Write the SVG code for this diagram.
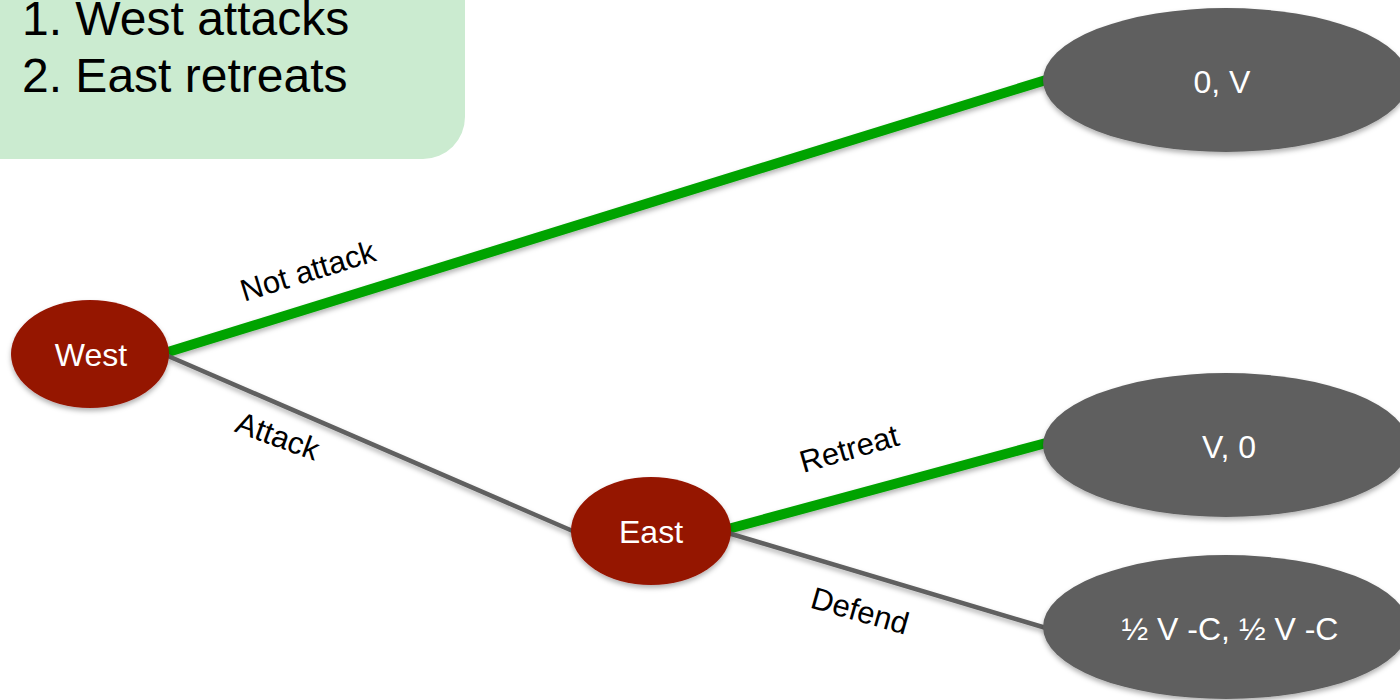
<svg xmlns="http://www.w3.org/2000/svg" width="1400" height="700" viewBox="0 0 1400 700">
  <defs>
    <filter id="sh" x="-20%" y="-20%" width="140%" height="150%">
      <feDropShadow dx="0" dy="3" stdDeviation="2.5" flood-color="#000" flood-opacity="0.3"/>
    </filter>
  </defs>
  <style>
    text { font-family: "Liberation Sans", Arial, sans-serif; }
    .lbl { font-size: 31px; fill: #000; text-anchor: middle; }
    .nodeTxt { font-size: 32px; fill: #fff; text-anchor: middle; }
    .payTxt { font-size: 32px; fill: #fff; text-anchor: middle; }
    .player { fill: #951300; filter: url(#sh); }
    .payoff { fill: #5f5f5f; filter: url(#sh); }
    .win { stroke: #00a300; stroke-width: 10; fill: none; }
    .lose { stroke: #606060; stroke-width: 4.5; fill: none; }
  </style>
  <rect width="1400" height="700" fill="#fff"/>

  <g id="note">
    <rect x="-60" y="-60" width="525" height="219" rx="42" fill="#cbebd0"/>
    <text x="22" y="35" font-size="48">1. West attacks</text>
    <text x="22" y="92" font-size="48">2. East retreats</text>
  </g>

  <g id="connectors" filter="url(#sh)">
    <line class="win" x1="168" y1="352" x2="1046" y2="80"/>
    <line class="lose" x1="168" y1="356" x2="575" y2="532"/>
    <line class="win" x1="728" y1="529" x2="1046" y2="443"/>
    <line class="lose" x1="728" y1="533" x2="1046" y2="628"/>
  </g>

  <g id="labels">
    <text class="lbl" transform="translate(311 281) rotate(-17.2)">Not attack</text>
    <text class="lbl" transform="translate(274 446) rotate(20)">Attack</text>
    <text class="lbl" transform="translate(852 459) rotate(-16)">Retreat</text>
    <text class="lbl" transform="translate(857 621) rotate(16)">Defend</text>
  </g>

  <g id="west">
    <ellipse class="player" cx="90" cy="354" rx="79" ry="54"/>
    <text class="nodeTxt" x="91" y="366">West</text>
  </g>
  <g id="east">
    <ellipse class="player" cx="651" cy="531" rx="80" ry="54"/>
    <text class="nodeTxt" x="651" y="543">East</text>
  </g>
  <g id="payoff1">
    <ellipse class="payoff" cx="1226" cy="80" rx="183" ry="72"/>
    <text class="payTxt" x="1222" y="93">0, V</text>
  </g>
  <g id="payoff2">
    <ellipse class="payoff" cx="1226" cy="445" rx="183" ry="72"/>
    <text class="payTxt" x="1229" y="458">V, 0</text>
  </g>
  <g id="payoff3">
    <ellipse class="payoff" cx="1226" cy="627" rx="183" ry="72"/>
    <text class="payTxt" x="1230" y="640">½ V -C, ½ V -C</text>
  </g>
</svg>
